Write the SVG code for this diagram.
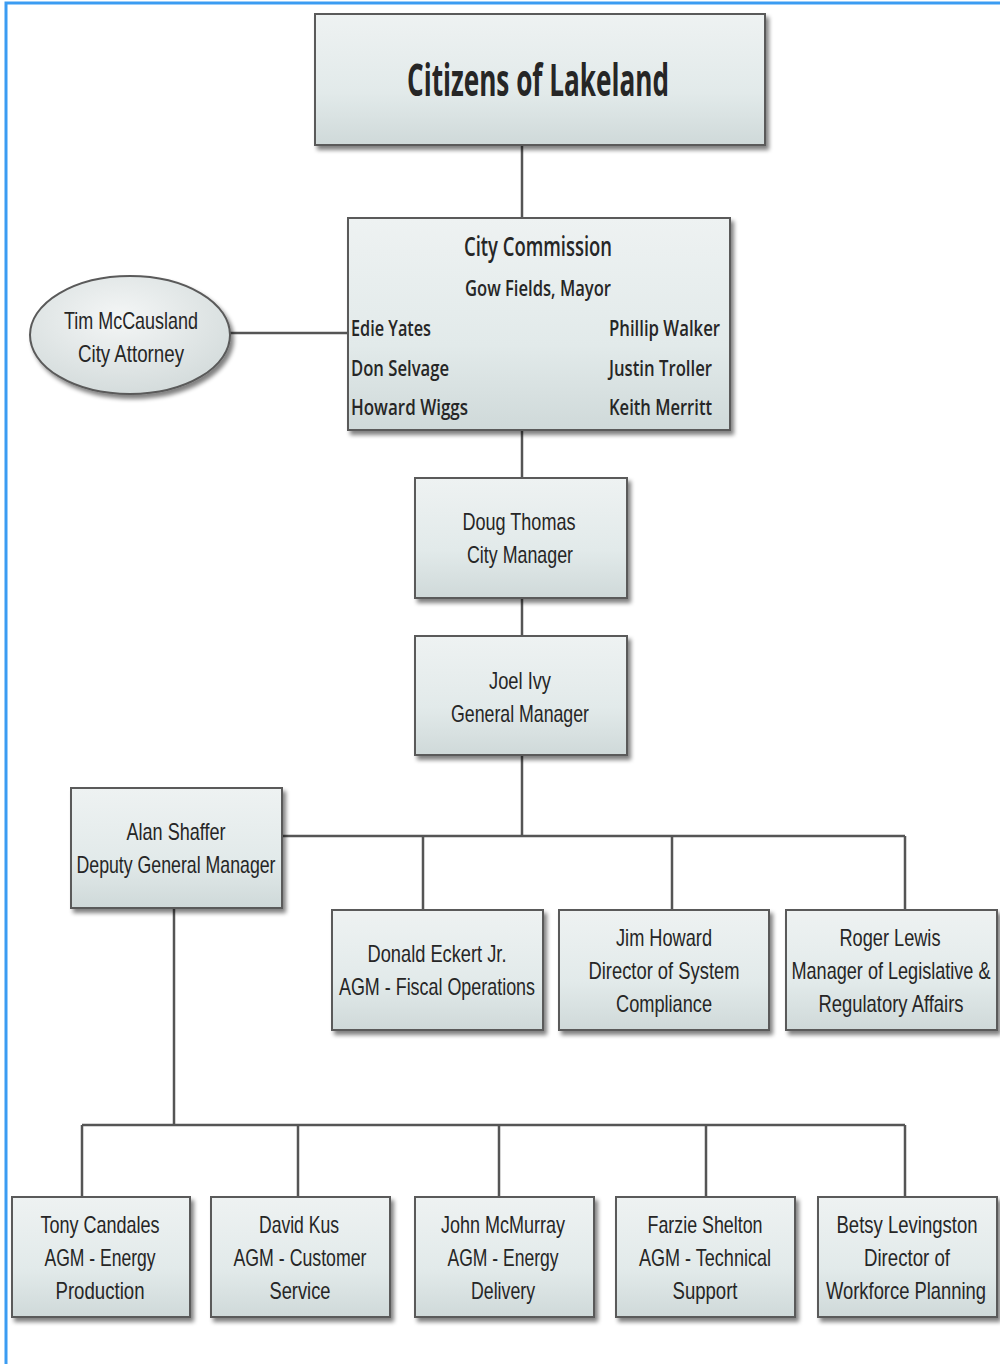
<svg xmlns="http://www.w3.org/2000/svg" width="1000" height="1364" viewBox="0 0 1000 1364">
<style>
.box{fill:url(#g);stroke:#5a5a5a;stroke-width:2;filter:url(#sh)}
.c{stroke:#555;stroke-width:2.5;fill:none}
text{font-family:"Liberation Sans",Arial,sans-serif;fill:#262626;font-size:24px;text-anchor:middle}
.cal{font-family:"Open Sans","Liberation Sans",sans-serif;font-size:22px;font-weight:600}
.t1{font-size:44px;font-weight:bold}
.t2{font-size:27px}
.l{text-anchor:start}
</style>
<defs>
<linearGradient id="g" x1="0" y1="0" x2="0" y2="1">
<stop offset="0" stop-color="#eef2f2"/>
<stop offset="0.6" stop-color="#e2eaea"/>
<stop offset="1" stop-color="#cfd9d9"/>
</linearGradient>
<radialGradient id="ge" cx="0.45" cy="0.35" r="0.7">
<stop offset="0" stop-color="#f4f6f6"/>
<stop offset="1" stop-color="#d2dada"/>
</radialGradient>
<filter id="sh" x="-10%" y="-10%" width="125%" height="130%">
<feGaussianBlur in="SourceAlpha" stdDeviation="2"/>
<feOffset dx="3" dy="4" result="o"/>
<feComponentTransfer><feFuncA type="linear" slope="0.5"/></feComponentTransfer>
<feMerge><feMergeNode/><feMergeNode in="SourceGraphic"/></feMerge>
</filter>
</defs>
<rect width="1000" height="1364" fill="#fff"/>
<path d="M6 1364 V3 H1000" stroke="#3b9cf2" stroke-width="3" fill="none"/>
<g id="connectors">
<path class="c" d="M522 145 V218"/>
<path class="c" d="M230 333 H348"/>
<path class="c" d="M522 430 V478"/>
<path class="c" d="M522 598 V636"/>
<path class="c" d="M522 755 V836"/>
<path class="c" d="M282 836 H905"/>
<path class="c" d="M423 836 V910 M672 836 V910 M905 836 V910"/>
<path class="c" d="M174 908 V1125"/>
<path class="c" d="M82 1125 H905"/>
<path class="c" d="M82 1125 V1197 M298 1125 V1197 M499 1125 V1197 M706 1125 V1197 M905 1125 V1197"/>
</g>
<g id="citizens">
<rect class="box" x="315" y="14" width="450" height="131"/>
<text class="cal t1" x="538" y="96" textLength="262" lengthAdjust="spacingAndGlyphs">Citizens of Lakeland</text>
</g>
<g id="commission">
<rect class="box" x="348" y="218" width="382" height="212"/>
<text class="cal t2" x="538" y="256" textLength="148" lengthAdjust="spacingAndGlyphs">City Commission</text>
<text class="cal" x="538" y="296" textLength="146" lengthAdjust="spacingAndGlyphs">Gow Fields, Mayor</text>
<text class="cal l" x="351" y="336" textLength="80" lengthAdjust="spacingAndGlyphs">Edie Yates</text>
<text class="cal l" x="351" y="376" textLength="98" lengthAdjust="spacingAndGlyphs">Don Selvage</text>
<text class="cal l" x="351" y="415" textLength="117" lengthAdjust="spacingAndGlyphs">Howard Wiggs</text>
<text class="cal l" x="609" y="336" textLength="111" lengthAdjust="spacingAndGlyphs">Phillip Walker</text>
<text class="cal l" x="609" y="376" textLength="103" lengthAdjust="spacingAndGlyphs">Justin Troller</text>
<text class="cal l" x="609" y="415" textLength="103" lengthAdjust="spacingAndGlyphs">Keith Merritt</text>
</g>
<g id="attorney">
<ellipse cx="130" cy="335" rx="100" ry="59" fill="url(#ge)" stroke="#5a5a5a" stroke-width="2" filter="url(#sh)"/>
<text x="131" y="329" textLength="134" lengthAdjust="spacingAndGlyphs">Tim McCausland</text>
<text x="131" y="362" textLength="106" lengthAdjust="spacingAndGlyphs">City Attorney</text>
</g>
<g id="citymanager">
<rect class="box" x="415" y="478" width="212" height="120"/>
<text x="519" y="530" textLength="113" lengthAdjust="spacingAndGlyphs">Doug Thomas</text>
<text x="520" y="563" textLength="106" lengthAdjust="spacingAndGlyphs">City Manager</text>
</g>
<g id="gm">
<rect class="box" x="415" y="636" width="212" height="119"/>
<text x="520" y="689" textLength="62" lengthAdjust="spacingAndGlyphs">Joel Ivy</text>
<text x="520" y="722" textLength="138" lengthAdjust="spacingAndGlyphs">General Manager</text>
</g>
<g id="deputy">
<rect class="box" x="71" y="788" width="211" height="120"/>
<text x="176" y="840" textLength="99" lengthAdjust="spacingAndGlyphs">Alan Shaffer</text>
<text x="176" y="873" textLength="199" lengthAdjust="spacingAndGlyphs">Deputy General Manager</text>
</g>
<g id="eckert">
<rect class="box" x="332" y="910" width="211" height="120"/>
<text x="437" y="962" textLength="139" lengthAdjust="spacingAndGlyphs">Donald Eckert Jr.</text>
<text x="437" y="995" textLength="196" lengthAdjust="spacingAndGlyphs">AGM - Fiscal Operations</text>
</g>
<g id="howard">
<rect class="box" x="559" y="910" width="210" height="120"/>
<text x="664" y="946" textLength="96" lengthAdjust="spacingAndGlyphs">Jim Howard</text>
<text x="664" y="979" textLength="151" lengthAdjust="spacingAndGlyphs">Director of System</text>
<text x="664" y="1012" textLength="96" lengthAdjust="spacingAndGlyphs">Compliance</text>
</g>
<g id="lewis">
<rect class="box" x="786" y="910" width="211" height="120"/>
<text x="890" y="946" textLength="101" lengthAdjust="spacingAndGlyphs">Roger Lewis</text>
<text x="891" y="979" textLength="199" lengthAdjust="spacingAndGlyphs">Manager of Legislative &amp;</text>
<text x="891" y="1012" textLength="145" lengthAdjust="spacingAndGlyphs">Regulatory Affairs</text>
</g>
<g id="candales">
<rect class="box" x="12" y="1197" width="178" height="120"/>
<text x="100" y="1233" textLength="119" lengthAdjust="spacingAndGlyphs">Tony Candales</text>
<text x="100" y="1266" textLength="111" lengthAdjust="spacingAndGlyphs">AGM - Energy</text>
<text x="100" y="1299" textLength="89" lengthAdjust="spacingAndGlyphs">Production</text>
</g>
<g id="kus">
<rect class="box" x="211" y="1197" width="179" height="120"/>
<text x="299" y="1233" textLength="80" lengthAdjust="spacingAndGlyphs">David Kus</text>
<text x="300" y="1266" textLength="133" lengthAdjust="spacingAndGlyphs">AGM - Customer</text>
<text x="300" y="1299" textLength="61" lengthAdjust="spacingAndGlyphs">Service</text>
</g>
<g id="mcmurray">
<rect class="box" x="415" y="1197" width="179" height="120"/>
<text x="503" y="1233" textLength="124" lengthAdjust="spacingAndGlyphs">John McMurray</text>
<text x="503" y="1266" textLength="111" lengthAdjust="spacingAndGlyphs">AGM - Energy</text>
<text x="503" y="1299" textLength="64" lengthAdjust="spacingAndGlyphs">Delivery</text>
</g>
<g id="shelton">
<rect class="box" x="616" y="1197" width="179" height="120"/>
<text x="705" y="1233" textLength="115" lengthAdjust="spacingAndGlyphs">Farzie Shelton</text>
<text x="705" y="1266" textLength="132" lengthAdjust="spacingAndGlyphs">AGM - Technical</text>
<text x="705" y="1299" textLength="65" lengthAdjust="spacingAndGlyphs">Support</text>
</g>
<g id="levingston">
<rect class="box" x="818" y="1197" width="179" height="120"/>
<text x="907" y="1233" textLength="141" lengthAdjust="spacingAndGlyphs">Betsy Levingston</text>
<text x="907" y="1266" textLength="86" lengthAdjust="spacingAndGlyphs">Director of</text>
<text x="906" y="1299" textLength="160" lengthAdjust="spacingAndGlyphs">Workforce Planning</text>
</g>
</svg>
